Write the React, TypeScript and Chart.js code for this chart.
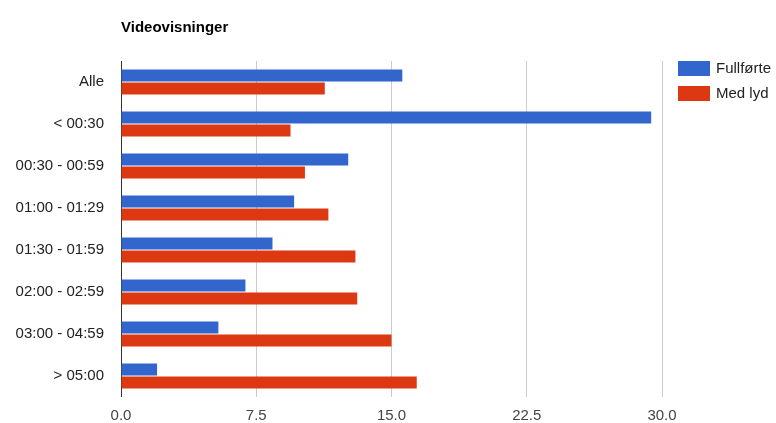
import React, { useEffect, useRef } from "react";
import { Chart, registerables } from "chart.js";

Chart.register(...registerables);

const title = "Videovisninger";
const categories = [
  "Alle",
  "< 00:30",
  "00:30 - 00:59",
  "01:00 - 01:29",
  "01:30 - 01:59",
  "02:00 - 02:59",
  "03:00 - 04:59",
  "> 05:00",
];
const seriesNames = ["Fullførte", "Med lyd"];
const fullforte = [15.6, 29.4, 12.6, 9.6, 8.4, 6.9, 5.4, 2.0];
const medLyd = [11.3, 9.4, 10.2, 11.5, 13.0, 13.1, 15.0, 16.4];
const xTicks = [0, 7.5, 15, 22.5, 30];
const colors = ["#3366CC", "#DC3912"];

const FONT = "'Liberation Sans', Arial, sans-serif";

const overlayPlugin = {
  id: "overlay",
  afterDraw(chart: any) {
    const ctx = chart.ctx;
    const area = chart.chartArea;
    ctx.save();
    // title
    ctx.font = `bold 15px ${FONT}`;
    ctx.fillStyle = "#000";
    ctx.textAlign = "left";
    ctx.textBaseline = "alphabetic";
    ctx.fillText(title, area.left, 32);
    // legend
    ctx.font = `15px ${FONT}`;
    ctx.textBaseline = "middle";
    seriesNames.forEach((name, i) => {
      const x = 678;
      const y = 61 + i * 25;
      ctx.fillStyle = colors[i];
      ctx.fillRect(x, y, 32, 15);
      ctx.fillStyle = "#222";
      ctx.fillText(name, x + 38, y + 8);
    });
    ctx.restore();
  },
};

export default function App() {
  const ref = useRef<HTMLCanvasElement>(null);
  useEffect(() => {
    document.body.style.margin = "0";
    const chart = new Chart(ref.current!, {
      type: "bar",
      data: {
        labels: categories,
        datasets: [
          {
            label: seriesNames[0],
            data: fullforte,
            backgroundColor: colors[0],
            categoryPercentage: 0.62,
            barPercentage: 0.92,
          },
          {
            label: seriesNames[1],
            data: medLyd,
            backgroundColor: colors[1],
            categoryPercentage: 0.62,
            barPercentage: 0.92,
          },
        ],
      },
      options: {
        indexAxis: "y",
        animation: false,
        responsive: false,
        maintainAspectRatio: false,
        layout: { padding: { left: 0, top: 61, right: 114, bottom: 0 } },
        plugins: {
          legend: { display: false },
          title: { display: false },
          tooltip: { enabled: false },
        },
        scales: {
          x: {
            min: 0,
            max: 30,
            afterBuildTicks: (scale: any) => {
              scale.ticks = xTicks.map((v) => ({ value: v }));
            },
            afterFit: (scale: any) => {
              scale.height = 26;
            },
            ticks: {
              font: { family: FONT, size: 15 },
              color: "#444",
              padding: 10,
              callback: (v: any) => Number(v).toFixed(1),
            },
            grid: {
              drawTicks: false,
              color: (c: any) => (c.tick && c.tick.value === 0 ? "#333" : "#cccccc"),
              lineWidth: 1,
            },
            border: { display: false },
          },
          y: {
            afterFit: (scale: any) => {
              scale.width = 121;
            },
            ticks: {
              font: { family: FONT, size: 15 },
              color: "#222",
              padding: 17,
            },
            grid: { display: false, drawTicks: false },
            border: { display: false },
          },
        },
      },
      plugins: [overlayPlugin],
    } as any);
    return () => chart.destroy();
  }, []);
  return (
    <div style={{ position: "absolute", left: 0, top: 0, width: 776, height: 423, background: "#fff" }}>
      <canvas ref={ref} width={776} height={423} style={{ width: 776, height: 423 }} />
    </div>
  );
}
